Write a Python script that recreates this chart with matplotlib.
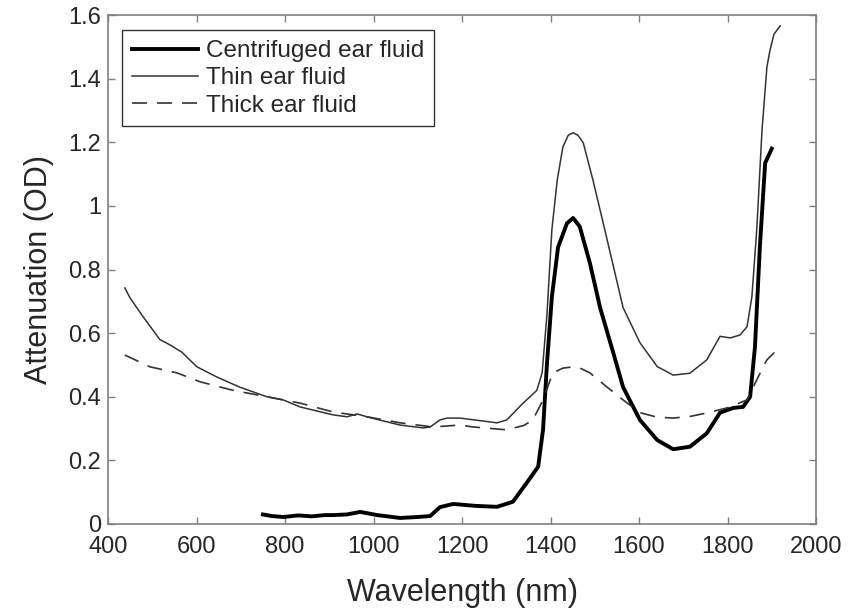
import numpy as np
import matplotlib
matplotlib.use('Agg')
import matplotlib.pyplot as plt

plt.rcParams['font.family'] = ['Liberation Sans', 'DejaVu Sans']

# thin ear fluid
thin_x = [438, 450, 480, 517, 540, 567, 578, 601, 646, 698, 759, 796, 834, 909, 940, 963, 985,
          1022, 1060, 1112, 1128, 1150, 1166, 1195, 1240, 1279, 1301, 1338, 1369, 1381, 1392,
          1403, 1415, 1428, 1440, 1451, 1462, 1474, 1496, 1519, 1542, 1564, 1602, 1641, 1677,
          1715, 1753, 1783, 1806, 1828, 1844, 1855, 1866, 1878, 1889, 1896, 1905, 1919]
thin_y = [0.742, 0.71, 0.65, 0.58, 0.563, 0.54, 0.525, 0.494, 0.462, 0.43, 0.40, 0.39, 0.368,
          0.343, 0.337, 0.346, 0.337, 0.324, 0.311, 0.302, 0.305, 0.327, 0.333, 0.333, 0.325,
          0.318, 0.327, 0.38, 0.42, 0.475, 0.66, 0.925, 1.08, 1.186, 1.222, 1.23, 1.222, 1.198,
          1.08, 0.946, 0.81, 0.68, 0.57, 0.495, 0.468, 0.474, 0.516, 0.59, 0.585, 0.594, 0.62,
          0.714, 0.925, 1.24, 1.437, 1.49, 1.54, 1.566]

# thick ear fluid
thick_x = [438, 495, 556, 608, 683, 759, 834, 909, 985, 1060, 1134, 1195, 1225, 1301, 1340,
           1360, 1383, 1405, 1428, 1451, 1470, 1489, 1528, 1564, 1602, 1640, 1677, 1715, 1753,
           1799, 1844, 1866, 1889, 1905, 1919]
thick_y = [0.531, 0.494, 0.475, 0.447, 0.42, 0.40, 0.38, 0.352, 0.337, 0.318, 0.305, 0.311,
           0.305, 0.296, 0.31, 0.327, 0.39, 0.475, 0.49, 0.494, 0.488, 0.475, 0.43, 0.39, 0.35,
           0.336, 0.333, 0.338, 0.349, 0.365, 0.39, 0.453, 0.516, 0.538, 0.547]

# centrifuged ear fluid
cen_x = [750, 770, 796, 830, 860, 890, 909, 940, 970, 1008, 1060, 1100, 1128, 1150, 1180, 1230,
         1279, 1315, 1346, 1372, 1383, 1392, 1403, 1417, 1437, 1451, 1466, 1489, 1512, 1542, 1564,
         1602, 1641, 1677, 1715, 1753, 1783, 1813, 1835, 1851, 1862, 1873, 1885, 1900]
cen_y = [0.03, 0.025, 0.022, 0.027, 0.024, 0.028, 0.028, 0.03, 0.038, 0.028, 0.019, 0.022,
         0.025, 0.053, 0.063, 0.057, 0.054, 0.07, 0.129, 0.18, 0.296, 0.506, 0.714, 0.87, 0.945,
         0.962, 0.935, 0.82, 0.68, 0.537, 0.43, 0.327, 0.264, 0.235, 0.243, 0.285, 0.35, 0.365,
         0.368, 0.40, 0.557, 0.87, 1.135, 1.18]

fig = plt.figure(figsize=(8.52, 6.11), dpi=100)
ax = fig.add_axes([0.1268, 0.1424, 0.831, 0.833])

ax.plot(cen_x, cen_y, color='black', lw=2.8, label='Centrifuged ear fluid')
ax.plot(thin_x, thin_y, color='#333333', lw=1.1, label='Thin ear fluid')
ax.plot(thick_x, thick_y, color='#333333', lw=1.2, dashes=(9, 6), label='Thick ear fluid')

ax.set_xlim(400, 2000)
ax.set_ylim(0, 1.6)
ax.set_xticks(np.arange(400, 2001, 200))
ax.set_yticks(np.arange(0, 1.61, 0.2))
ax.set_yticklabels(['0', '0.2', '0.4', '0.6', '0.8', '1', '1.2', '1.4', '1.6'])

ax.tick_params(direction='in', top=True, right=True, length=5, width=1, color='#808080',
               labelsize=17, labelcolor='#262626')
ax.tick_params(axis='x', pad=9)
ax.tick_params(axis='y', pad=5)
for s in ax.spines.values():
    s.set_color('#808080')
    s.set_linewidth(1.2)

ax.set_xlabel('Wavelength (nm)', fontsize=22, color='#262626', labelpad=14)
ax.set_ylabel('Attenuation (OD)', fontsize=22, color='#262626', labelpad=10)

leg = ax.legend(loc='upper left', bbox_to_anchor=(0.02, 0.97), fontsize=17.5, frameon=True,
                fancybox=False, edgecolor='black', handlelength=2.7, handletextpad=0.35,
                borderaxespad=0, labelspacing=0.22, borderpad=0.4)
leg.get_frame().set_linewidth(1.0)
for t in leg.get_texts():
    t.set_color('#262626')

plt.savefig('out.png', dpi=100)
